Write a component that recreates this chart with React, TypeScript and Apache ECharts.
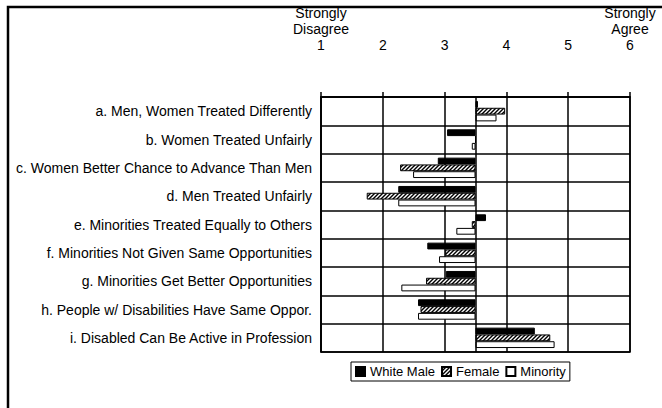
import React, { useEffect, useRef } from "react";
import * as echarts from "echarts";

const categories = [
  "a. Men, Women Treated Differently",
  "b. Women Treated Unfairly",
  "c. Women Better Chance to Advance Than Men",
  "d. Men Treated Unfairly",
  "e. Minorities Treated Equally to Others",
  "f. Minorities Not Given Same Opportunities",
  "g. Minorities Get Better Opportunities",
  "h. People w/ Disabilities Have Same Oppor.",
  "i. Disabled Can Be Active in Profession",
];
const whiteMale = [3.54, 3.04, 2.89, 2.25, 3.67, 2.72, 3.02, 2.57, 4.46];
const female = [3.98, 3.5, 2.28, 1.74, 3.44, 3.01, 2.7, 2.61, 4.71];
const minority = [3.84, 3.44, 2.49, 2.25, 3.19, 2.91, 2.3, 2.57, 4.78];
const seriesNames = ["White Male", "Female", "Minority"];
const tickValues = [1, 2, 3, 4, 5, 6];
const tickTopLines = ["Strongly\nDisagree", "", "", "", "", "Strongly\nAgree"];
const BASE = 3.5;

function makeHatch() {
  const c = document.createElement("canvas");
  c.width = 4;
  c.height = 4;
  const ctx = c.getContext("2d")!;
  ctx.fillStyle = "#fff";
  ctx.fillRect(0, 0, 4, 4);
  ctx.strokeStyle = "#000";
  ctx.lineWidth = 1.4;
  ctx.beginPath();
  ctx.moveTo(-1, 5);
  ctx.lineTo(5, -1);
  ctx.stroke();
  ctx.beginPath();
  ctx.moveTo(-1, 1);
  ctx.lineTo(1, -1);
  ctx.stroke();
  ctx.beginPath();
  ctx.moveTo(3, 5);
  ctx.lineTo(5, 3);
  ctx.stroke();
  return c;
}

export default function App() {
  const ref = useRef<HTMLDivElement>(null);
  useEffect(() => {
    if (!ref.current) return;
    const chart = echarts.init(ref.current, null, { renderer: "svg" });
    const hatch = makeHatch();
    const fills: any[] = [
      "#000",
      { image: hatch, repeat: "repeat", imageWidth: 4, imageHeight: 4 },
      "#fff",
    ];
    const groups = [whiteMale, female, minority];
    const lineStyle = { color: "#000", width: 1.5 };
    const series: any[] = [];
    groups.forEach((vals, i) => {
      series.push({
        type: "bar",
        name: "base" + i,
        stack: "s" + i,
        data: vals.map((v) => Math.min(v, BASE)),
        itemStyle: { color: "transparent" },
        silent: true,
        barWidth: 6.8,
        barGap: "0%",
      });
      const s: any = {
        type: "bar",
        name: seriesNames[i],
        stack: "s" + i,
        data: vals.map((v) => Math.abs(v - BASE)),
        itemStyle: { color: fills[i], borderColor: "#000", borderWidth: 1 },
        barWidth: 6.8,
        barGap: "0%",
      };
      if (i === 0) {
        s.markLine = {
          silent: true,
          symbol: "none",
          label: { show: false },
          lineStyle: { color: "#000", type: "solid", width: 1.5 },
          data: [{ xAxis: BASE }],
        };
      }
      series.push(s);
    });
    chart.setOption({
      animation: false,
      textStyle: { fontFamily: "'Liberation Sans', Arial, sans-serif" },
      graphic: [
        {
          type: "rect",
          z: 100,
          shape: { x: 8, y: 7, width: 700, height: 500 },
          style: { fill: "none", stroke: "#000", lineWidth: 2.5 },
          silent: true,
        },
      ],
      grid: {
        left: 321,
        right: 32,
        top: 97,
        height: 255,
        show: true,
        borderColor: "#000",
        borderWidth: 1.5,
      },
      legend: {
        left: 351,
        top: 362,
        data: seriesNames,
        icon: "rect",
        itemWidth: 9,
        itemHeight: 9,
        itemGap: 6,
        padding: [3, 4, 3, 4],
        borderColor: "#000",
        borderWidth: 1,
        textStyle: { fontSize: 13, color: "#000", fontFamily: "'Liberation Sans', Arial, sans-serif" },
      },
      xAxis: {
        type: "value",
        position: "top",
        min: 1,
        max: 6,
        interval: 1,
        axisLine: { show: true, lineStyle },
        axisTick: { show: true, length: 5, lineStyle },
        splitLine: { show: true, lineStyle },
        axisLabel: {
          color: "#000",
          fontSize: 14,
          lineHeight: 16,
          margin: 44,
          formatter: (v: number) => {
            const idx = tickValues.indexOf(v);
            const top = idx >= 0 ? tickTopLines[idx] : "";
            return top ? top + "\n" + v : String(v);
          },
        },
      },
      yAxis: {
        type: "category",
        data: categories,
        inverse: true,
        axisLine: { show: true, lineStyle },
        axisTick: { show: false },
        splitLine: { show: true, lineStyle },
        axisLabel: { color: "#000", fontSize: 14, margin: 9 },
      },
      series,
    });
    return () => chart.dispose();
  }, []);
  return (
    <div
      ref={ref}
      style={{ position: "fixed", left: 0, top: 0, width: 662, height: 408, background: "#fff" }}
    />
  );
}
